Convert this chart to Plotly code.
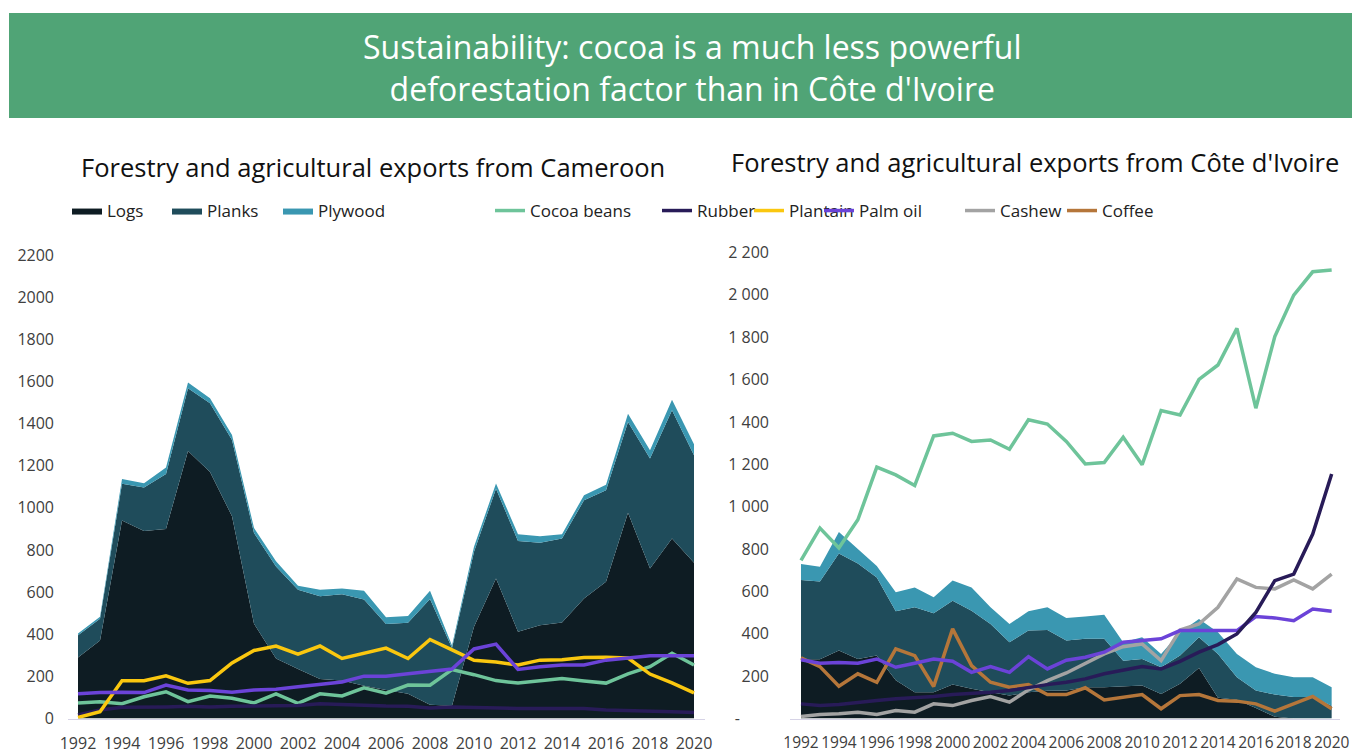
import plotly.graph_objects as go

years = list(range(1992, 2021))

# ---------------- Cameroon (left) ----------------
cm_logs = [290, 370, 940, 890, 900, 1270, 1170, 960, 450, 285, 235, 188, 180, 155, 135, 118, 65, 60,
           435, 665, 412, 443, 456, 570, 649, 976, 712, 854, 739]
cm_planks = [105, 104, 174, 206, 260, 297, 326, 362, 430, 437, 376, 392, 410, 410, 313, 336, 502, 275,
             356, 426, 431, 391, 398, 466, 434, 431, 522, 609, 511]
cm_plywood = [8, 9, 23, 21, 31, 28, 24, 24, 24, 24, 19, 31, 27, 41, 32, 32, 39, 12,
              24, 24, 32, 31, 21, 24, 27, 40, 39, 50, 52]
cm_cocoa = [73, 80, 70, 103, 127, 80, 107, 96, 74, 117, 72, 117, 107, 146, 120, 159, 158, 232,
            208, 180, 168, 178, 190, 178, 168, 212, 246, 310, 254]
cm_rubber = [17, 40, 53, 53, 55, 58, 55, 58, 60, 62, 62, 70, 65, 62, 59, 58, 50, 55,
             52, 48, 48, 48, 48, 47, 40, 38, 37, 32, 28]
cm_plantain = [5, 32, 179, 179, 203, 167, 180, 264, 323, 344, 306, 344, 285, 309, 334, 285, 375, 326,
               276, 268, 254, 277, 279, 289, 291, 287, 211, 169, 122]
cm_palm = [117, 124, 125, 123, 159, 135, 133, 125, 135, 139, 151, 162, 173, 201, 201, 212, 223, 235,
           330, 353, 233, 246, 254, 254, 277, 287, 298, 298, 298]

# ---------------- Cote d'Ivoire (right) ----------------
ci_logs = [280, 280, 321, 281, 297, 180, 124, 124, 160, 140, 124, 108, 124, 131, 132, 148, 148, 151,
           156, 116, 164, 239, 98, 88, 50, 8, 0, 0, 0]
ci_planks = [374, 367, 458, 451, 369, 326, 401, 373, 396, 369, 322, 252, 291, 287, 236, 228, 228, 122,
             125, 126, 133, 144, 207, 107, 82, 105, 101, 101, 60]
ci_plywood = [75, 70, 101, 68, 54, 90, 94, 75, 95, 110, 79, 86, 91, 107, 107, 105, 114, 87,
              102, 63, 110, 87, 102, 110, 110, 98, 94, 94, 88]
ci_cocoa = [746, 899, 805, 938, 1187, 1150, 1100, 1334, 1347, 1308, 1315, 1271, 1410, 1390, 1308, 1202,
            1208, 1328, 1198, 1454, 1433, 1601, 1669, 1842, 1465, 1803, 1999, 2109, 2117]
ci_rubber = [69, 61, 66, 77, 85, 93, 97, 104, 113, 117, 124, 132, 148, 160, 171, 187, 211, 230, 245,
             234, 270, 313, 349, 399, 501, 651, 682, 871, 1154]
ci_palm = [277, 261, 264, 261, 281, 242, 261, 281, 270, 218, 245, 218, 292, 234, 275, 289, 313, 360,
           368, 376, 415, 415, 415, 415, 481, 475, 462, 517, 506]
ci_cashew = [9, 19, 22, 30, 19, 38, 30, 69, 61, 85, 104, 77, 135, 179, 215, 258, 305, 339, 352, 273,
             418, 446, 525, 659, 619, 612, 654, 612, 682]
ci_coffee = [286, 245, 152, 211, 171, 329, 297, 151, 423, 250, 171, 148, 160, 113, 113, 145, 88, 101,
             113, 46, 108, 113, 85, 82, 69, 35, 69, 104, 46]

left_yticks = list(range(0, 2201, 200))
left_yticktext = [str(v) for v in left_yticks]
right_yticks = list(range(0, 2201, 200))
right_yticktext = ["-" + "\u00a0" * 7, "200", "400", "600", "800", "1 000", "1 200", "1 400",
                   "1 600", "1 800", "2 000", "2 200"]
xticks = list(range(1992, 2021, 2))

title_main = "Sustainability: cocoa is a much less powerful<br>deforestation factor than in Côte d'Ivoire"
title_left = "Forestry and agricultural exports from Cameroon"
title_right = "Forestry and agricultural exports from Côte d'Ivoire"

COL = {
    "Logs": "#0E1C23",
    "Planks": "#1F4C5B",
    "Plywood": "#3A97B1",
    "Cocoa beans": "#6EC49A",
    "Rubber": "#281B58",
    "Plantain": "#FAC70F",
    "Palm oil": "#6B43D8",
    "Cashew": "#A3A3A3",
    "Coffee": "#B5763A",
}

W, H = 1362, 753


def px(xs):
    return xs / W


def py(ys):
    return 1 - ys / H


FONT = "Open Sans"
fig = go.Figure()

legend_of = {"Logs": "legend", "Planks": "legend2", "Plywood": "legend3", "Cocoa beans": "legend4",
             "Rubber": "legend5", "Plantain": "legend6", "Palm oil": "legend7", "Cashew": "legend8",
             "Coffee": "legend9"}
shown = set()


def add_area(name, vals, xa, ya, grp):
    show = name not in shown
    shown.add(name)
    fig.add_trace(go.Scatter(x=years, y=vals, name=name, mode="lines", stackgroup=grp,
                             line=dict(width=0, color=COL[name]), fillcolor=COL[name],
                             xaxis=xa, yaxis=ya, showlegend=show, legend=legend_of[name],
                             hoverinfo="skip"))


def add_line(name, vals, xa, ya):
    show = name not in shown
    shown.add(name)
    fig.add_trace(go.Scatter(x=years, y=vals, name=name, mode="lines",
                             line=dict(width=3.5, color=COL[name]),
                             xaxis=xa, yaxis=ya, showlegend=show, legend=legend_of[name]))


# left chart
add_area("Logs", cm_logs, "x", "y", "L")
add_area("Planks", cm_planks, "x", "y", "L")
add_area("Plywood", cm_plywood, "x", "y", "L")
add_line("Cocoa beans", cm_cocoa, "x", "y")
add_line("Rubber", cm_rubber, "x", "y")
add_line("Plantain", cm_plantain, "x", "y")
add_line("Palm oil", cm_palm, "x", "y")

# right chart
add_area("Logs", ci_logs, "x2", "y2", "R")
add_area("Planks", ci_planks, "x2", "y2", "R")
add_area("Plywood", ci_plywood, "x2", "y2", "R")
add_line("Cocoa beans", ci_cocoa, "x2", "y2")
add_line("Coffee", ci_coffee, "x2", "y2")
add_line("Cashew", ci_cashew, "x2", "y2")
add_line("Palm oil", ci_palm, "x2", "y2")
add_line("Rubber", ci_rubber, "x2", "y2")

tickfont = dict(family=FONT, size=16, color="#404040")
xtickfont_r = dict(family=FONT, size=15.5, color="#404040")
axis_line = "#D6D3E6"

layout = dict(
    width=W, height=H,
    margin=dict(l=0, r=0, t=0, b=0, pad=0, autoexpand=False),
    paper_bgcolor="white", plot_bgcolor="rgba(0,0,0,0)",
    font=dict(family=FONT, color="#222222"),
    xaxis=dict(domain=[px(68), px(705)], range=[1991.545, 2020.5], tickvals=xticks,
               ticktext=[str(v) for v in xticks], showgrid=False, zeroline=False,
               showline=True, linecolor=axis_line, linewidth=1, ticks="", tickangle=0,
               tickfont=tickfont, ticklabelstandoff=10, anchor="y", automargin=False),
    yaxis=dict(domain=[py(718.5), py(255)], range=[0, 2200], tickvals=left_yticks,
               ticktext=left_yticktext, showgrid=False, zeroline=False, showline=False,
               ticks="", tickfont=tickfont, ticklabelstandoff=13, anchor="x", automargin=False),
    xaxis2=dict(domain=[px(790), px(1340)], range=[1991.42, 2020.44], tickvals=xticks,
                ticktext=[str(v) for v in xticks], showgrid=False, zeroline=False,
                showline=True, linecolor=axis_line, linewidth=1, ticks="", tickangle=0,
                tickfont=xtickfont_r, ticklabelstandoff=10, anchor="y2", automargin=False),
    yaxis2=dict(domain=[py(718.5), py(252.5)], range=[0, 2200], tickvals=right_yticks,
                ticktext=right_yticktext, showgrid=False, zeroline=False, showline=False,
                ticks="", tickfont=tickfont, ticklabelstandoff=20, anchor="x2", automargin=False),
    showlegend=True,
)

legend_x = {"legend": 67, "legend2": 167, "legend3": 278, "legend4": 490, "legend5": 657,
            "legend6": 749, "legend7": 819, "legend8": 960, "legend9": 1062}
for lg, xs in legend_x.items():
    layout[lg] = dict(x=px(xs), y=py(211), xanchor="left", yanchor="middle", orientation="h",
                      bgcolor="rgba(0,0,0,0)", borderwidth=0,
                      font=dict(family=FONT, size=17, color="#222222"))

fig.update_layout(**layout)

# banner
fig.add_shape(type="rect", xref="paper", yref="paper", x0=px(9), x1=px(1352), y0=py(118), y1=py(13),
              fillcolor="#50A476", line=dict(width=0), layer="below")
fig.add_annotation(text=title_main, xref="paper", yref="paper", x=px(693), y=py(67),
                   xanchor="center", yanchor="middle", showarrow=False,
                   font=dict(family=FONT, size=32, color="white"), align="center")
fig.add_annotation(text=title_left, xref="paper", yref="paper", x=px(373), y=py(167),
                   xanchor="center", yanchor="middle", showarrow=False,
                   font=dict(family=FONT, size=25.5, color="#111111"))
fig.add_annotation(text=title_right, xref="paper", yref="paper", x=px(1035), y=py(162),
                   xanchor="center", yanchor="middle", showarrow=False,
                   font=dict(family=FONT, size=25.5, color="#111111"))

fig.write_html("out.html", config={"displayModeBar": False},
               post_script="document.body.style.margin='0';document.body.style.overflow='hidden';")
